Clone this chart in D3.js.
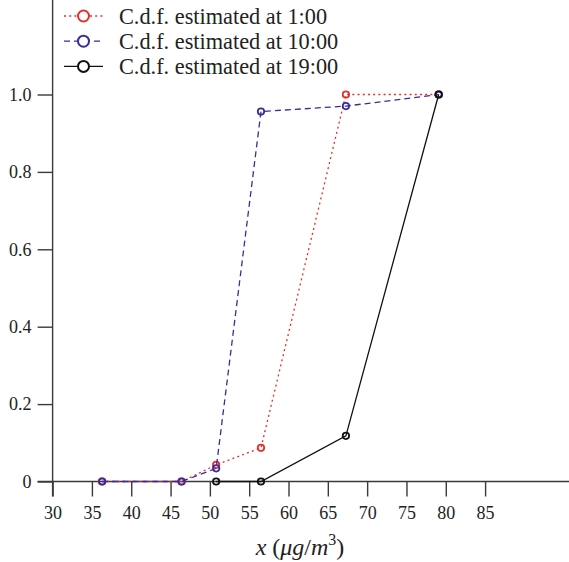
<!DOCTYPE html>
<html>
<head>
<meta charset="utf-8">
<script src="https://cdn.jsdelivr.net/npm/d3@7"></script>
<style>
  body { margin: 0; background: #fff; }
  svg { display: block; }
  svg text { font-family: "Liberation Serif", serif !important; }
</style>
</head>
<body>
<svg width="569" height="562"></svg>
<script>
// data
const xValues = [36.3, 46.4, 50.8, 56.5, 67.3, 79.1]
const cdf1 = [0, 0, 0.043, 0.087, 1.0, 1.0]
const cdf10 = [0, 0, 0.034, 0.956, 0.970, 1.0]
const cdf19x = [50.8, 56.5, 67.3, 79.1]
const cdf19 = [0, 0, 0.118, 1.0]
const xTicks = [30, 35, 40, 45, 50, 55, 60, 65, 70, 75, 80, 85]
const yTicks = [0, 0.2, 0.4, 0.6, 0.8, 1.0]
const legendLabels = ["C.d.f. estimated at 1:00", "C.d.f. estimated at 10:00", "C.d.f. estimated at 19:00"]

const series = [
    { label: legendLabels[0], xs: xValues, ys: cdf1, color: "#e3302b", dash: "2,3.2" },
    { label: legendLabels[1], xs: xValues, ys: cdf10, color: "#3b2c9b", dash: "6,4" },
    { label: legendLabels[2], xs: cdf19x, ys: cdf19, color: "#111", dash: null }
]

const svg = d3.select("svg")
const W = 569, H = 562
const axisColor = "#3a3a3a"

const x = d3.scaleLinear().domain([30, 85]).range([52.6, 485.1])
const y = d3.scaleLinear().domain([0, 1]).range([481.5, 94.5])
const tickLen = 15

// axis lines
svg.append("line")
    .attr("x1", x(30) - tickLen).attr("x2", W)
    .attr("y1", y(0)).attr("y2", y(0))
    .attr("stroke", axisColor).attr("stroke-width", 1.4)
svg.append("line")
    .attr("x1", x(30)).attr("x2", x(30))
    .attr("y1", 0).attr("y2", y(0) + tickLen)
    .attr("stroke", axisColor).attr("stroke-width", 1.4)

const xAxis = svg.append("g")
    .attr("transform", `translate(0,${y(0)})`)
    .call(d3.axisBottom(x).tickValues(xTicks).tickSize(tickLen).tickPadding(10).tickFormat(d3.format("d")))
xAxis.attr("font-size", 18)
xAxis.select(".domain").remove()
xAxis.selectAll("line").attr("stroke", axisColor).attr("stroke-width", 1.4)
xAxis.selectAll("text").attr("fill", "#222")

const yAxis = svg.append("g")
    .attr("transform", `translate(${x(30)},0)`)
    .call(d3.axisLeft(y).tickValues(yTicks).tickSize(tickLen).tickPadding(6)
        .tickFormat(d => d === 0 ? "0" : d3.format(".1f")(d)))
yAxis.attr("font-size", 18)
yAxis.select(".domain").remove()
yAxis.selectAll("line").attr("stroke", axisColor).attr("stroke-width", 1.4)
yAxis.selectAll("text").attr("fill", "#222")

// series
const line = d3.line().x(d => x(d[0])).y(d => y(d[1]))
series.forEach(s => {
    const pts = s.xs.map((v, i) => [v, s.ys[i]])
    svg.append("path")
        .datum(pts)
        .attr("d", line)
        .attr("fill", "none")
        .attr("stroke", s.color)
        .attr("stroke-width", 1.3)
        .attr("stroke-dasharray", s.dash)
    svg.append("g").selectAll("circle")
        .data(pts)
        .join("circle")
        .attr("cx", d => x(d[0]))
        .attr("cy", d => y(d[1]))
        .attr("r", 3.2)
        .attr("fill", "none")
        .attr("stroke", s.color)
        .attr("stroke-width", 1.8)
})

// legend
const legend = svg.append("g")
series.forEach((s, i) => {
    const ly = 16 + i * 25.2
    legend.append("line")
        .attr("x1", 64).attr("x2", 103)
        .attr("y1", ly).attr("y2", ly)
        .attr("stroke", s.color).attr("stroke-width", 1.3)
        .attr("stroke-dasharray", s.dash)
    legend.append("circle")
        .attr("cx", 83.5).attr("cy", ly).attr("r", 5.5)
        .attr("fill", "#fff").attr("stroke", s.color).attr("stroke-width", 2)
    legend.append("text")
        .attr("x", 119).attr("y", ly)
        .attr("dy", "0.35em")
        .attr("font-size", 22.3)
        .attr("fill", "#222")
        .text(s.label)
})

// x label
const xl = svg.append("text")
    .attr("x", 300).attr("y", 555)
    .attr("text-anchor", "middle")
    .attr("font-size", 24)
    .attr("fill", "#222")
xl.append("tspan").attr("font-style", "italic").text("x")
xl.append("tspan").text(" (")
xl.append("tspan").attr("font-style", "italic").text("μg")
xl.append("tspan").text("/")
xl.append("tspan").attr("font-style", "italic").text("m")
xl.append("tspan").attr("font-size", 16).attr("dy", -10).text("3")
xl.append("tspan").attr("dy", 10).text(")")
</script>
</body>
</html>
